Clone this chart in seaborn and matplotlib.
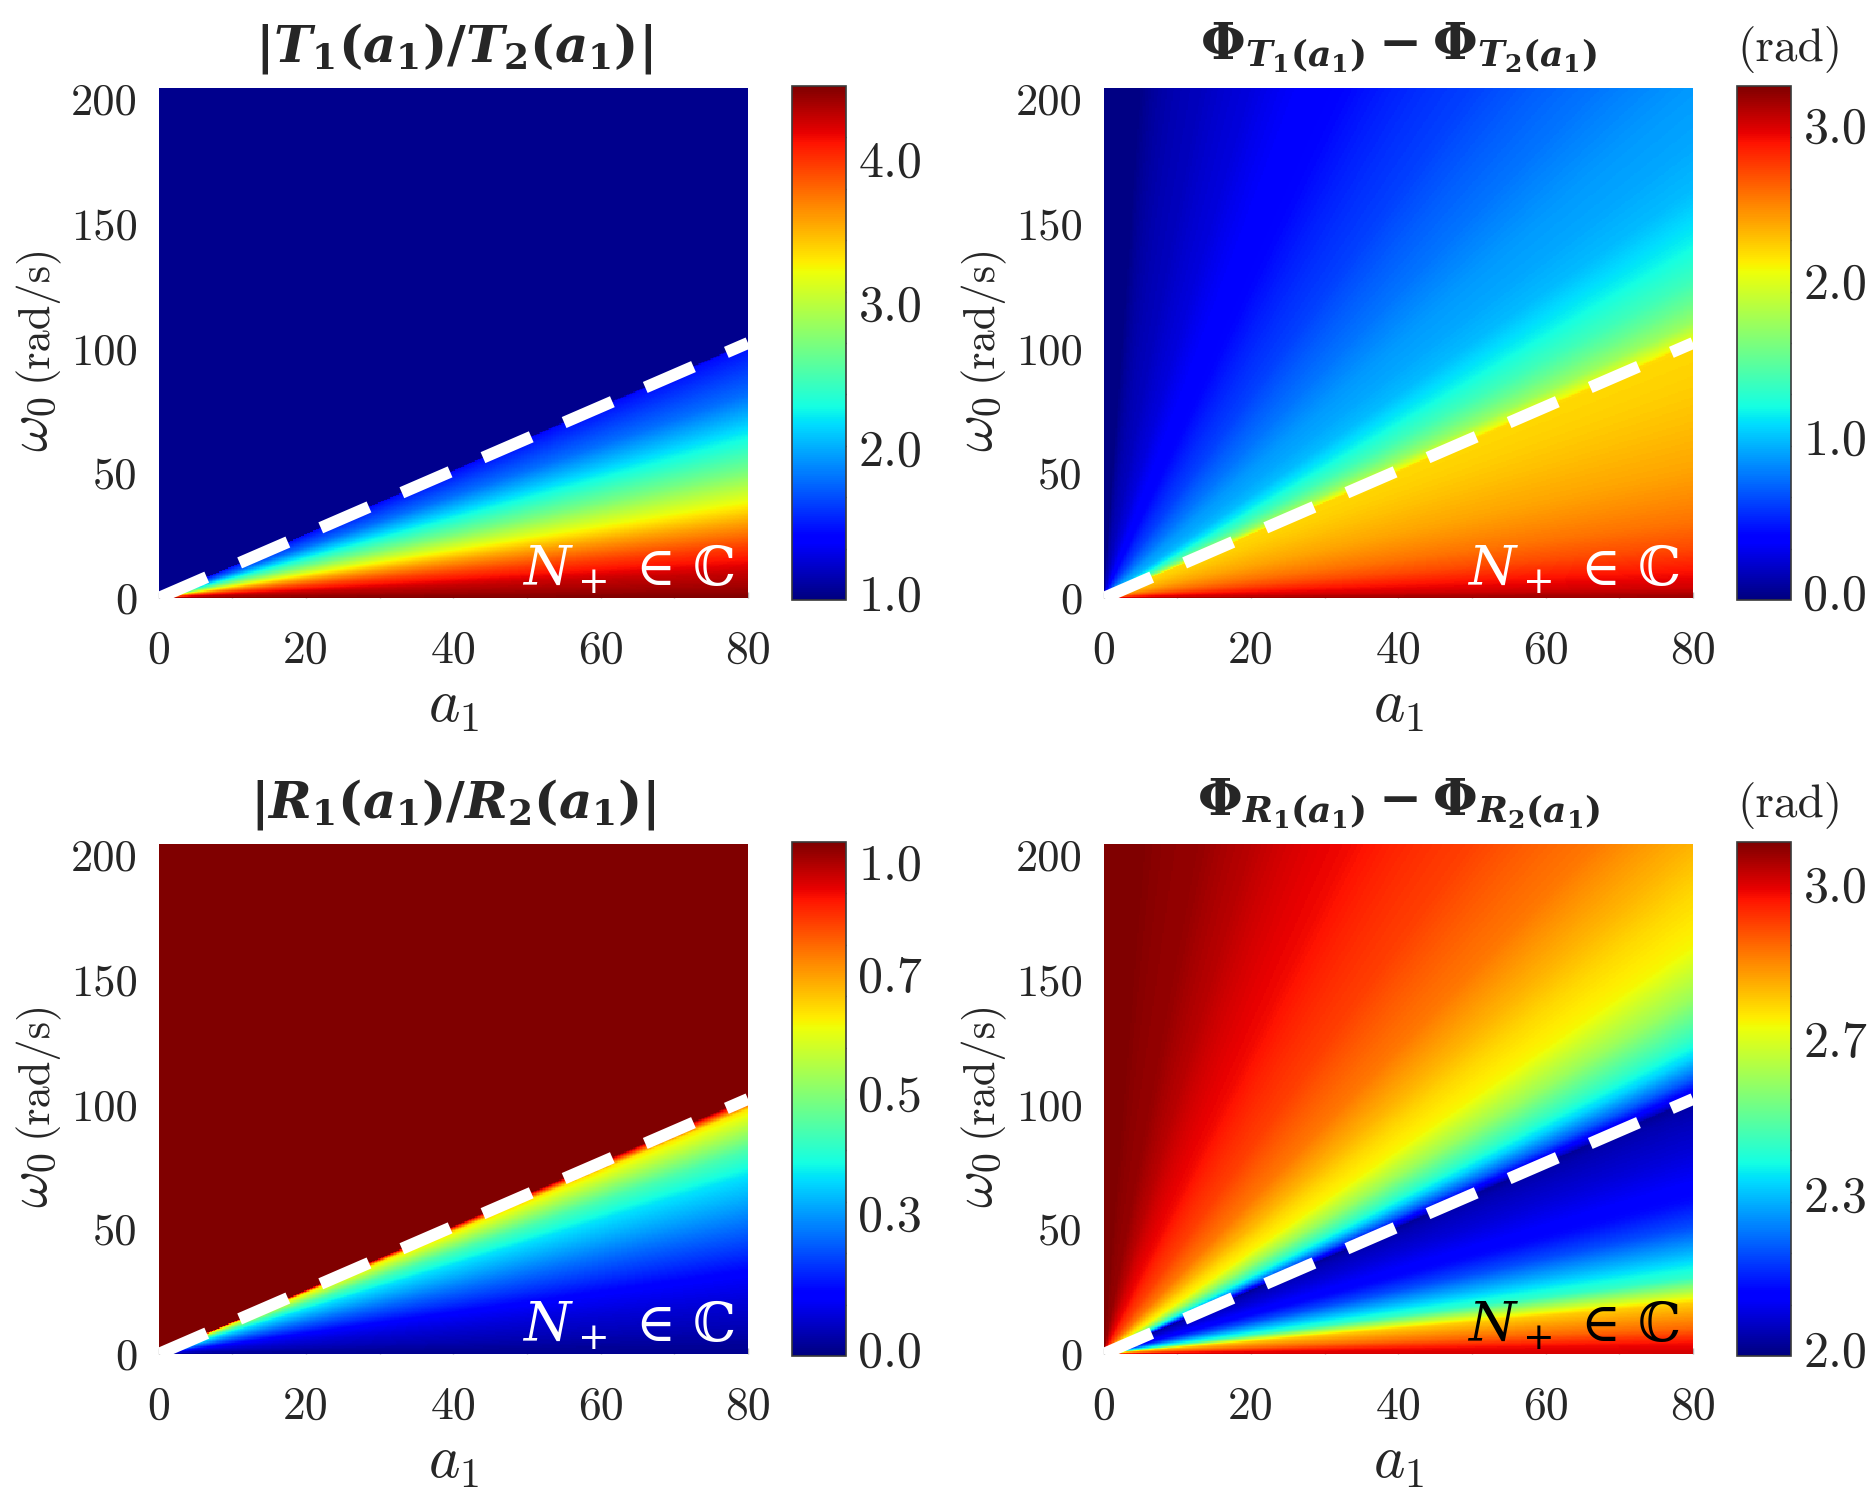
import numpy as np
import pandas as pd
import matplotlib
matplotlib.use("Agg")
import matplotlib.pyplot as plt
from matplotlib.ticker import FixedLocator
import seaborn as sns

# ------------------------------------------------------------------
# Data.
# Each map is (to the eye) a function of the ray slope omega0/a1;
# values listed at these slopes (rad/s per unit a1).
# ------------------------------------------------------------------
ratio = [0.0, 0.05, 0.125, 0.25, 0.375, 0.5, 0.625, 0.75, 0.875, 1.0,
         1.125, 1.2, 1.245, 1.255, 1.35, 1.45, 1.55, 1.75, 2.0, 2.25,
         2.5, 3.0, 4.0, 6.0, 10.0, 15.0, 40.0]

T_mag = [4.50, 4.40, 4.28, 3.95, 3.56, 3.12, 2.70, 2.36, 2.06, 1.78,
         1.60, 1.49, 1.42, 1.00, 1.00, 1.00, 1.00, 1.00, 1.00, 1.00,
         1.00, 1.00, 1.00, 1.00, 1.00, 1.00, 1.00]
T_phase = [3.18, 3.02, 2.90, 2.69, 2.55, 2.46, 2.38, 2.33, 2.28, 2.24,
           2.21, 2.20, 2.19, 2.09, 1.72, 1.52, 1.36, 1.15, 0.97, 0.90,
           0.86, 0.74, 0.57, 0.38, 0.22, 0.13, -0.03]
R_mag = [0.0, 0.01, 0.033, 0.064, 0.10, 0.167, 0.228, 0.292, 0.352, 0.45,
         0.60, 0.69, 0.95, 1.04, 1.04, 1.04, 1.04, 1.04, 1.04, 1.04,
         1.04, 1.04, 1.04, 1.04, 1.04, 1.04, 1.04]
R_phase = [3.01, 2.98, 2.87, 2.75, 2.44, 2.317, 2.206, 2.134, 2.10, 2.07,
           2.046, 2.03, 2.01, 2.05, 2.22, 2.35, 2.44, 2.58, 2.70, 2.736,
           2.78, 2.85, 2.915, 2.98, 3.035, 3.068, 3.09]

boundary_ratio = 1.25          # dashed line omega0 = 1.25 a1
a1_max, w0_max = 80, 200

x_ticks = [0, 20, 40, 60, 80]
y_ticks = [0, 50, 100, 150, 200]

titles = [r"$|T_1(a_1)/T_2(a_1)|$", r"$\Phi_{T_1(a_1)} - \Phi_{T_2(a_1)}$",
          r"$|R_1(a_1)/R_2(a_1)|$", r"$\Phi_{R_1(a_1)} - \Phi_{R_2(a_1)}$"]
fields = [T_mag, T_phase, R_mag, R_phase]
clims = [(0.95, 4.5), (-0.05, 3.25), (-0.015, 1.04), (1.985, 3.09)]
cbar_ticks = [[1.0, 2.0, 3.0, 4.0], [0.0, 1.0, 2.0, 3.0],
              [0.0, 0.28, 0.525, 0.77, 1.0], [2.0, 2.333, 2.667, 3.0]]
cbar_labels = [["1.0", "2.0", "3.0", "4.0"], ["0.0", "1.0", "2.0", "3.0"],
               ["0.0", "0.3", "0.5", "0.7", "1.0"], ["2.0", "2.3", "2.7", "3.0"]]
show_rad = [False, True, False, True]
region_color = ["white", "white", "white", "black"]

# ------------------------------------------------------------------
sns.set_theme(style="white")
plt.rcParams["font.family"] = ["cmr10", "DejaVu Serif"]
plt.rcParams["mathtext.fontset"] = "custom"
plt.rcParams["mathtext.rm"] = "DejaVu Serif:bold"
plt.rcParams["mathtext.it"] = "DejaVu Serif:italic:bold"
plt.rcParams["mathtext.bf"] = "DejaVu Serif:bold"
plt.rcParams["axes.formatter.use_mathtext"] = True

W_PX, H_PX = 1874, 1498
fig = plt.figure(figsize=(W_PX / 100, H_PX / 100), dpi=100)


def frac_box(x0, y0, w, h):
    return [x0 / W_PX, 1 - (y0 + h) / H_PX, w / W_PX, h / H_PX]


col_x = [158.5, 1103.5]
row_y = [88.0, 844.0]
ax_w, ax_h = 589.5, 510.0
cb_dx, cb_w = 633.5, 54.0

nx, ny = 400, 400
a1_c = (np.arange(nx) + 0.5) * a1_max / nx
w0_c = w0_max - (np.arange(ny) + 0.5) * w0_max / ny
A, Wg = np.meshgrid(a1_c, w0_c)
slope = Wg / A

for k in range(4):
    r, c = divmod(k, 2)
    x0, y0 = col_x[c], row_y[r]
    ax = fig.add_axes(frac_box(x0, y0, ax_w, ax_h))
    cax = fig.add_axes(frac_box(x0 + cb_dx, y0 - 2, cb_w, ax_h + 4))
    vmin, vmax = clims[k]
    Z = np.interp(slope, ratio, fields[k])
    df = pd.DataFrame(Z, index=np.round(w0_c, 3), columns=np.round(a1_c, 3))
    sns.heatmap(df, ax=ax, cmap="jet", vmin=vmin, vmax=vmax, cbar_ax=cax,
                xticklabels=False, yticklabels=False, rasterized=True)

    # dashed boundary omega0 = boundary_ratio * a1
    a_line = np.array([0.0, a1_max])
    w_line = boundary_ratio * a_line
    ax.plot(a_line / a1_max * nx, (w0_max - w_line) / w0_max * ny,
            color="white", lw=8.6, linestyle=(0, (4.4, 3.0)),
            dash_capstyle="butt", zorder=5)

    # axes ticks
    ax.set_xticks([v / a1_max * nx for v in x_ticks])
    ax.set_xticklabels([str(v) for v in x_ticks], fontsize=33)
    ax.xaxis.set_minor_locator(FixedLocator([v / a1_max * nx for v in range(10, 80, 20)]))
    ax.tick_params(axis="x", which="both", direction="in", length=4, width=1,
                   color="#b5b5b5", bottom=True, pad=23)
    ax.set_yticks([(w0_max - 0.978 * v) / w0_max * ny for v in y_ticks])
    ax.set_yticklabels([str(v) for v in y_ticks], fontsize=32, rotation=0)
    ax.tick_params(axis="y", length=0, pad=15)
    ax.set_xlabel("")
    ax.set_ylabel("")
    for lab in ax.get_xticklabels() + ax.get_yticklabels():
        lab.set_fontfamily("cmr10")

    # colorbar styling
    cb = ax.collections[0].colorbar
    cb.outline.set_linewidth(1.2)
    cb.outline.set_edgecolor("#3a3a3a")
    cb.set_ticks(cbar_ticks[k])
    cb.set_ticklabels(cbar_labels[k])
    cax.yaxis.set_minor_locator(FixedLocator(list(np.linspace(vmin, vmax, 11)[1:-1])))
    cax.tick_params(which="major", length=0, pad=9, labelsize=36)
    cax.tick_params(which="minor", direction="in", length=5, width=1,
                    color="#3a3a3a", right=True, left=False)
    for lab in cax.get_yticklabels():
        lab.set_fontfamily("cmr10")

    # region label
    ax.text(0.978, 0.024, "$N_+$ \u2208 \u2102", transform=ax.transAxes,
            ha="right", va="baseline", fontsize=39, color=region_color[k],
            family=["DejaVu Serif", "DejaVu Sans"],
            math_fontfamily="dejavuserif", zorder=6)

    # title
    cx = (x0 + ax_w / 2) / W_PX
    t_base = y0 - (27 if k in (0, 2) else 28)
    fig.text(cx, 1 - t_base / H_PX, titles[k], ha="center", va="baseline",
             fontsize=37)
    if show_rad[k]:
        fig.text((x0 + cb_dx) / W_PX, 1 - (y0 - 27) / H_PX, "(rad)",
                 ha="left", va="baseline", fontsize=34, fontfamily="cmr10")

    # x label
    fig.text(cx, 1 - (y0 + ax_h + 124) / H_PX, r"$a_1$", ha="center",
             va="baseline", fontsize=43, math_fontfamily="cm")
    # y label (two parts: symbol and unit)
    yc = y0 + ax_h / 2
    xb = (x0 - 112) / W_PX
    fig.text(xb, 1 - (yc + 109) / H_PX, r"$\omega_0$", rotation=90,
             rotation_mode="anchor", ha="left", va="baseline", fontsize=41,
             math_fontfamily="cm")
    fig.text(xb, 1 - (yc + 38) / H_PX, "(rad/s)", rotation=90,
             rotation_mode="anchor", ha="left", va="baseline", fontsize=32,
             fontfamily="cmr10")

fig.savefig("out.png", dpi=100)
